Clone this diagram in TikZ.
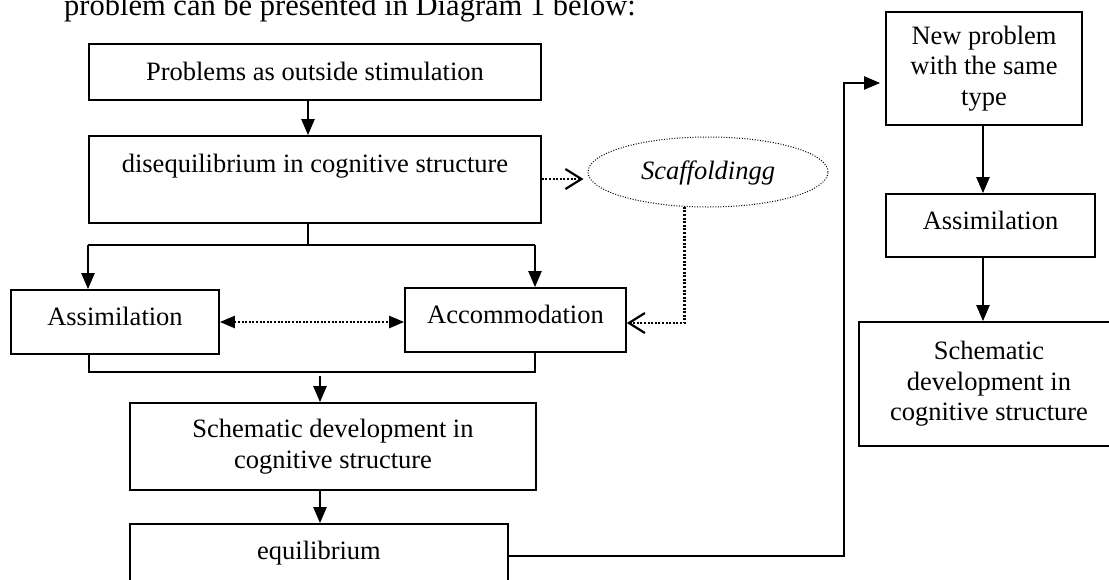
\documentclass[tikz,border=0pt]{standalone}
\usepackage{fontspec}
\setmainfont{Liberation Serif}
\usetikzlibrary{arrows.meta,shapes.geometric}
\begin{document}
\begin{tikzpicture}[x=1pt,y=-1pt,
  box/.style={draw,line width=1.7pt,inner sep=0pt,align=center,
    font=\fontsize{26.5}{30.5}\selectfont},
  sl/.style 2 args={text height=#1pt,text depth=#2pt},
  conn/.style={line width=2.2pt},
  arr/.style={line width=2.2pt,-{Triangle[length=16pt,width=13pt]}},
  dotarr/.style={line width=2.2pt,dash pattern=on 2pt off 1.6pt},
  openhead/.style={-{Straight Barb[length=16pt,width=20pt,line width=2.2pt]}}
]
\useasboundingbox (0,0) rectangle (1109,579);
\fill[white] (0,0) rectangle (1109,579);

% cut-off line of text above the diagram
\node[anchor=base west,inner sep=0pt,font=\fontsize{30.5}{34}\selectfont] (intro) at (64,15)
  {problem can be presented in Diagram 1 below:};

% left column
\node[box,sl={19}{3},minimum width=452pt,minimum height=56pt] (p1) at (315,72)
  {Problems as outside stimulation};
\node[box,sl={19}{34},minimum width=452pt,minimum height=87pt] (dis) at (315,179.5)
  {disequilibrium in cognitive structure};
\node[box,sl={19}{13},minimum width=208pt,minimum height=64pt] (asm) at (115,322)
  {Assimilation};
\node[box,sl={19}{13},minimum width=221pt,minimum height=64pt] (acc) at (515.5,320)
  {Accommodation};
\node[box,minimum width=406pt,minimum height=87pt] (sch) at (333,446.5)
  {Schematic development in\\cognitive structure};
\node[box,sl={19}{36},minimum width=378pt,minimum height=87pt] (eq) at (319,567.5)
  {equilibrium};

% scaffolding ellipse
\node[ellipse,draw,line width=1pt,dash pattern=on 1pt off 1.6pt,inner sep=0pt,
  minimum width=240pt,minimum height=70pt,sl={19}{5},
  font=\fontsize{26.5}{30.5}\selectfont\itshape] (scaf) at (708,172) {Scaffoldingg};

% right column
\node[box,minimum width=196pt,minimum height=113pt] (np) at (984,68.5)
  {New problem\\with the same\\type};
\node[box,sl={19}{12},minimum width=209pt,minimum height=63pt] (asm2) at (990.5,225.5)
  {Assimilation};
\node[box,minimum width=260pt,minimum height=124pt] (sch2) at (989,384)
  {Schematic\\development in\\cognitive structure};

% helper coordinates
\coordinate (a1) at (308,0);
\coordinate (fl) at (88,245);
\coordinate (fr) at (535,245);
\coordinate (bl) at (89,372);
\coordinate (br) at (535,372);
\coordinate (ba) at (320,376);
\coordinate (jx) at (844,0);
\coordinate (rx) at (983,0);
\coordinate (eqo) at ([yshift=11.5pt]eq.east);
\coordinate (npi) at ([yshift=-14.5pt]np.west);
\coordinate (disr) at ([yshift=0.5pt]dis.east);
\coordinate (accr) at ([yshift=-3pt]acc.east);

% connectors, left column
\draw[arr] (p1.south -| a1) -- (a1 |- dis.north);
\draw[conn] (dis.south -| a1) -- (a1 |- fl);
\draw[conn] (fl) -- (fr);
\draw[arr] (fl) -- (fl |- asm.north);
\draw[arr] (fr) -- (fr |- acc.north);
\draw[dotarr,{Triangle[length=15pt,width=12pt]}-{Triangle[length=15pt,width=12pt]}]
  (asm.east) -- (asm.east -| acc.west);
\draw[conn] (bl |- asm.south) -- (bl) -- (br) -- (br |- acc.south);
\draw[arr] (ba) -- (ba |- sch.north);
\draw[arr] (sch.south -| ba) -- (ba |- eq.north);

% scaffolding connectors
\draw[dotarr,openhead,shorten >=4pt] (disr) -- (disr -| scaf.west);
\draw[dotarr,openhead] (scaf.236) |- (accr);

% link to right column
\draw[arr,shorten >=5pt] (eqo) -- (eqo -| jx) -- (jx |- npi) -- (npi);
\draw[arr] (np.south -| rx) -- (rx |- asm2.north);
\draw[arr] (asm2.south -| rx) -- (rx |- sch2.north);
\end{tikzpicture}
\end{document}
